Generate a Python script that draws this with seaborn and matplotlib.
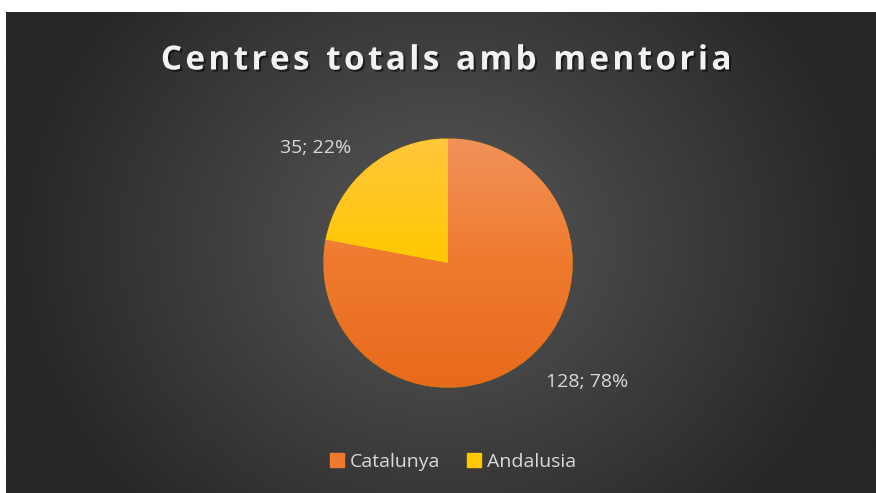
import numpy as np
import matplotlib
matplotlib.use("Agg")
import matplotlib.pyplot as plt
import matplotlib.patheffects as pe
import seaborn as sns

# data
regions = ["Catalunya", "Andalusia"]
centres = [128, 35]
percent = [78, 22]
top_colors = ["#F1925A", "#FFC83D"]
mid_colors = ["#EF7A2E", "#FFC700"]
bottom_colors = ["#E86A1C", "#E5B400"]

sns.set_theme(style="white")
plt.rcParams['font.family'] = ['Open Sans', 'DejaVu Sans']

W, H = 876, 493
fig = plt.figure(figsize=(W / 100, H / 100), dpi=100, facecolor="white")

# background with radial gradient
bg = fig.add_axes([6 / W, 0, (W - 6) / W, (H - 12) / H])
bg.set_axis_off()
yy, xx = np.mgrid[0:1:300j, 0:1:500j]
d = np.sqrt(((xx - 0.5) * 1.0) ** 2 + ((yy - 0.52) * 0.62) ** 2) / 0.5
d = np.clip(d, 0, 1)
inner = np.array([0x58, 0x58, 0x58]) / 255
outer = np.array([0x26, 0x26, 0x26]) / 255
img = inner[None, None, :] * (1 - d[..., None]) + outer[None, None, :] * d[..., None]
bg.imshow(img, extent=[0, 1, 0, 1], aspect="auto", origin="lower")
bg.set_xlim(0, 1)
bg.set_ylim(0, 1)

# title
title = "Centres totals amb mentoria"
spaced = "\u200a".join(title).replace("\u200a \u200a", "\u2002")
fig.text(447 / W, 1 - 61 / H, spaced,
         ha="center", va="center", color="#f2f2f2", fontsize=24, fontweight="bold",
         path_effects=[pe.withSimplePatchShadow(offset=(1.5, -1.5), shadow_rgbFace="black", alpha=0.5)])

# pie
cx, cy, r = 448, 263, 124.5
ax = fig.add_axes([(cx - r) / W, (H - cy - r) / H, 2 * r / W, 2 * r / H])
wedges, _ = ax.pie(percent, startangle=90, counterclock=False, colors=bottom_colors,
                   wedgeprops=dict(edgecolor="#b8860b", linewidth=0.4))
ax.set_xlim(-1, 1)
ax.set_ylim(-1, 1)
ax.set_axis_off()

for w, c1, c2, c3 in zip(wedges, top_colors, mid_colors, bottom_colors):
    cmap = matplotlib.colors.LinearSegmentedColormap.from_list("g", [c1, c2, c3])
    grad = cmap(np.linspace(0, 1, 256))[:, None, :]
    im = ax.imshow(grad, extent=[-1, 1, -1, 1], aspect="auto", origin="upper", zorder=w.get_zorder())
    im.set_clip_path(w)

# data labels
label_pos = [(587, 382), (316, 148)]
for v, p, (px, py) in zip(centres, percent, label_pos):
    fig.text(px / W, 1 - py / H, f"{v}; {p}%", ha="center", va="center",
             color="#d9d9d9", fontsize=14)

# legend
handles = [plt.Rectangle((0, 0), 1, 1, color=c) for c in mid_colors]
leg = fig.legend(handles, regions, loc="center", bbox_to_anchor=(453 / W, 1 - 462 / H), ncol=2,
                 frameon=False, fontsize=14, handlelength=0.7, handleheight=0.7,
                 handletextpad=0.3, columnspacing=1.4)
for t in leg.get_texts():
    t.set_color("#d9d9d9")

fig.savefig("out.png", dpi=100, facecolor="white")
